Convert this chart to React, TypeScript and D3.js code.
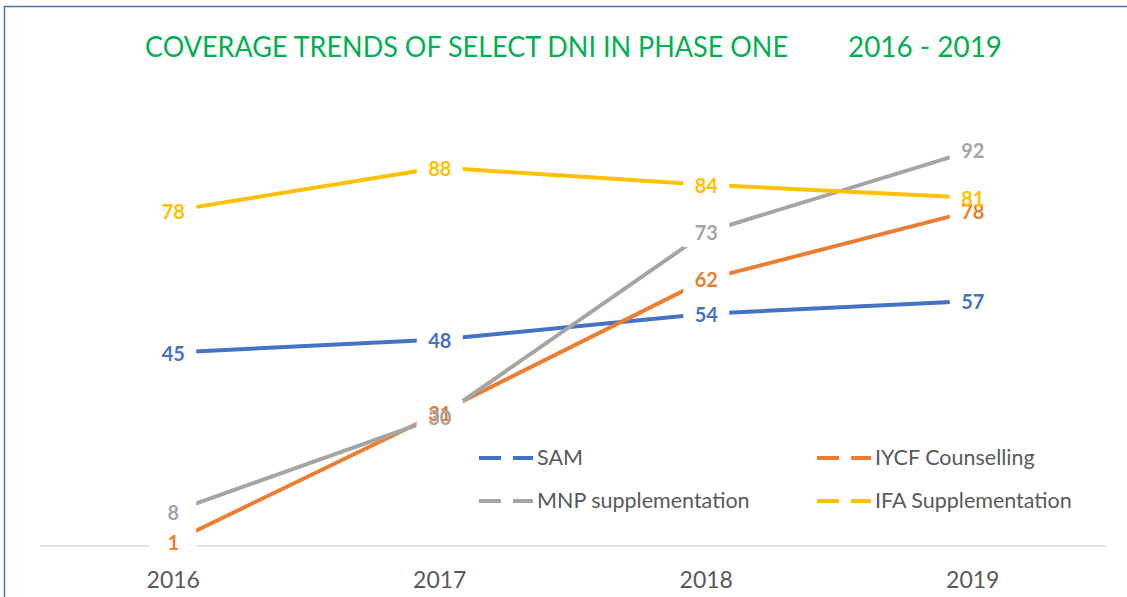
import * as d3 from 'd3'

const years = ['2016', '2017', '2018', '2019']
const samValues = [45, 48, 54, 57]
const iycfValues = [1, 31, 62, 78]
const mnpValues = [8, 30, 73, 92]
const ifaValues = [78, 88, 84, 81]

const seriesNames = ['SAM', 'IYCF Counselling', 'MNP supplementation', 'IFA Supplementation']
const seriesColors = ['#4472C4', '#ED7D31', '#A5A5A5', '#FFC000']

const series = [samValues, iycfValues, mnpValues, ifaValues].map((values, i) => ({
    name: seriesNames[i],
    color: seriesColors[i],
    values,
}))

const W = 1127
const H = 597
const font = 'Lato, "Open Sans", sans-serif'

export default function App() {
    const x = d3.scalePoint<string>().domain(years).range([40, 1106]).padding(0.5)
    const y = d3.scaleLinear().domain([0, 100]).range([546, 116])

    const line = d3
        .line<number>()
        .x((_, i) => x(years[i]) as number)
        .y((d) => y(d))

    // legend cells: two columns, two rows
    const legendCells = [
        { s: series[0], lx: 479, ly: 458 },
        { s: series[1], lx: 817, ly: 458 },
        { s: series[2], lx: 479, ly: 501 },
        { s: series[3], lx: 817, ly: 501 },
    ]

    return (
        <div style={{ position: 'absolute', left: 0, top: 0 }}>
            <svg width={W} height={H} style={{ display: 'block', background: '#fff' }}>
                {/* chart border */}
                <line x1={4.5} y1={6} x2={4.5} y2={H} stroke="#4472C4" strokeWidth={1.5} />
                <line x1={4} y1={6.5} x2={W} y2={6.5} stroke="#4472C4" strokeWidth={1.5} />

                <text x={145} y={57} fill="#00B050" fontFamily={font} fontSize={28}
                    textLength={643} lengthAdjust="spacingAndGlyphs">
                    COVERAGE TRENDS OF SELECT DNI IN PHASE ONE
                </text>
                <text x={848} y={57} fill="#00B050" fontFamily={font} fontSize={28}
                    textLength={154} lengthAdjust="spacingAndGlyphs">
                    2016 - 2019
                </text>

                {/* axis */}
                <line x1={40} x2={1106} y1={y(0)} y2={y(0)} stroke="#D9D9D9" strokeWidth={1.5} />
                {years.map((yr) => (
                    <text key={yr} x={x(yr)} y={588} textAnchor="middle" fill="#595959"
                        fontFamily={font} fontSize={23}>
                        {yr}
                    </text>
                ))}

                {series.map((s) => (
                    <path key={s.name} d={line(s.values) || ''} fill="none" stroke={s.color}
                        strokeWidth={4} strokeLinecap="butt" />
                ))}

                {/* label boxes */}
                {series.map((s) =>
                    s.values.map((v, i) => (
                        <rect key={s.name + i} x={(x(years[i]) as number) - 23} y={y(v) - 13}
                            width={46} height={28} fill="#fff" />
                    ))
                )}
                {series.map((s) =>
                    s.values.map((v, i) => (
                        <text key={s.name + 't' + i} x={x(years[i])} y={y(v) + 8}
                            textAnchor="middle" fill={s.color} fontFamily={font}
                            fontWeight="bold" fontSize={20}>
                            {v}
                        </text>
                    ))
                )}

                {/* legend */}
                {legendCells.map(({ s, lx, ly }) => (
                    <g key={s.name}>
                        <line x1={lx} x2={lx + 54} y1={ly} y2={ly} stroke={s.color}
                            strokeWidth={4} strokeDasharray="22 12" />
                        <text x={lx + 58} y={ly + 7} fill="#595959" fontFamily={font} fontSize={21.5}>
                            {s.name}
                        </text>
                    </g>
                ))}
            </svg>
        </div>
    )
}
